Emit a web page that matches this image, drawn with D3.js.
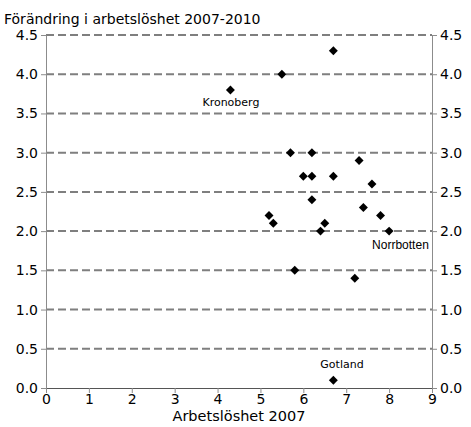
<!DOCTYPE html>
<html>
<head>
<meta charset="utf-8">
<script src="https://cdn.jsdelivr.net/npm/d3@7"></script>
<style>
  body { margin: 0; background: #fff; }
  text { font-family: "DejaVu Sans", Verdana, sans-serif; }
  .lbl { font-size: 11px; }
  .lbl-arial { font-family: "Liberation Sans", Arial, sans-serif; font-size: 12px; }
</style>
</head>
<body>
<div id="chart"></div>
<script>
// arbetslöshet 2007 (x) and change 2007-2010 (y)
const xValues = [4.3, 5.5, 6.7, 5.7, 6.2, 7.3, 6.0, 6.2, 6.7, 7.6, 6.2, 7.4, 5.2, 7.8, 5.3, 6.5, 6.4, 8.0, 5.8, 7.2, 6.7];
const yValues = [3.8, 4.0, 4.3, 3.0, 3.0, 2.9, 2.7, 2.7, 2.7, 2.6, 2.4, 2.3, 2.2, 2.2, 2.1, 2.1, 2.0, 2.0, 1.5, 1.4, 0.1];
const labelNames = ["Kronoberg", "Norrbotten", "Gotland"];
const labelIdx = [0, 17, 20];
const xTicks = [0, 1, 2, 3, 4, 5, 6, 7, 8, 9];
const yTicks = [0, 0.5, 1, 1.5, 2, 2.5, 3, 3.5, 4, 4.5];

const WIDTH = 471, HEIGHT = 427;
const LEFT = 46, RIGHT = 432, TOP = 35, BOTTOM = 388;

const svg = d3.select("#chart").append("svg")
    .attr("width", WIDTH)
    .attr("height", HEIGHT);

let xScale = d3.scaleLinear().domain([0, 9]).range([LEFT, RIGHT]);
let yScale = d3.scaleLinear().domain([0, 4.5]).range([BOTTOM, TOP]);

// Dashed gridlines
svg.append("g")
    .selectAll("line")
    .data(yTicks.filter(d => d > 0))
    .enter().append("line")
    .attr("x1", LEFT)
    .attr("x2", RIGHT)
    .attr("y1", d => yScale(d))
    .attr("y2", d => yScale(d))
    .attr("stroke", "#7f7f7f")
    .attr("stroke-width", 2)
    .attr("stroke-dasharray", "8,4");

function styleAxis(g) {
    g.select(".domain").attr("stroke", "#8c8c8c");
    g.selectAll(".tick line").attr("stroke", "#8c8c8c");
    g.selectAll("text")
        .attr("fill", "#000")
        .style("font-family", "'DejaVu Sans', Verdana, sans-serif")
        .style("font-size", "14px");
}

// Left axis
svg.append("g")
    .attr("transform", `translate(${LEFT},0)`)
    .call(d3.axisLeft(yScale).tickValues(yTicks).tickFormat(d3.format(".1f")).tickSize(5).tickSizeOuter(0).tickPadding(3))
    .call(styleAxis);

// Right axis
svg.append("g")
    .attr("transform", `translate(${RIGHT},0)`)
    .call(d3.axisRight(yScale).tickValues(yTicks).tickFormat(d3.format(".1f")).tickSize(5).tickSizeOuter(0).tickPadding(3))
    .call(styleAxis);

// Bottom axis
svg.append("g")
    .attr("transform", `translate(0,${BOTTOM})`)
    .call(d3.axisBottom(xScale).tickValues(xTicks).tickFormat(d3.format("d")).tickSize(5).tickSizeOuter(0).tickPadding(1))
    .call(styleAxis)
    .call(g => g.select(".domain").attr("stroke", "#555"));

// Points
const diamond = d3.symbol().type(d3.symbolSquare).size(40);
svg.append("g")
    .selectAll("path")
    .data(xValues.map((x, i) => ({ x: x, y: yValues[i] })))
    .enter().append("path")
    .attr("d", diamond)
    .attr("transform", d => `translate(${xScale(d.x)},${yScale(d.y)}) rotate(45)`)
    .attr("fill", "#000");

// Point labels (dx, dy from the point, text start)
const labelOffsets = [[-28, 16], [-17, 18], [-13, -12]];
labelNames.forEach((name, i) => {
    let k = labelIdx[i];
    svg.append("text")
        .classed(i === 1 ? "lbl-arial" : "lbl", true)
        .attr("x", xScale(xValues[k]) + labelOffsets[i][0])
        .attr("y", yScale(yValues[k]) + labelOffsets[i][1])
        .text(name);
});

// Title
svg.append("text")
    .attr("x", 4)
    .attr("y", 24)
    .style("font-size", "14px")
    .text("Förändring i arbetslöshet 2007-2010");

// X-axis label
svg.append("text")
    .attr("x", 239)
    .attr("y", 421)
    .attr("text-anchor", "middle")
    .style("font-size", "14.5px")
    .text("Arbetslöshet 2007");
</script>
</body>
</html>
